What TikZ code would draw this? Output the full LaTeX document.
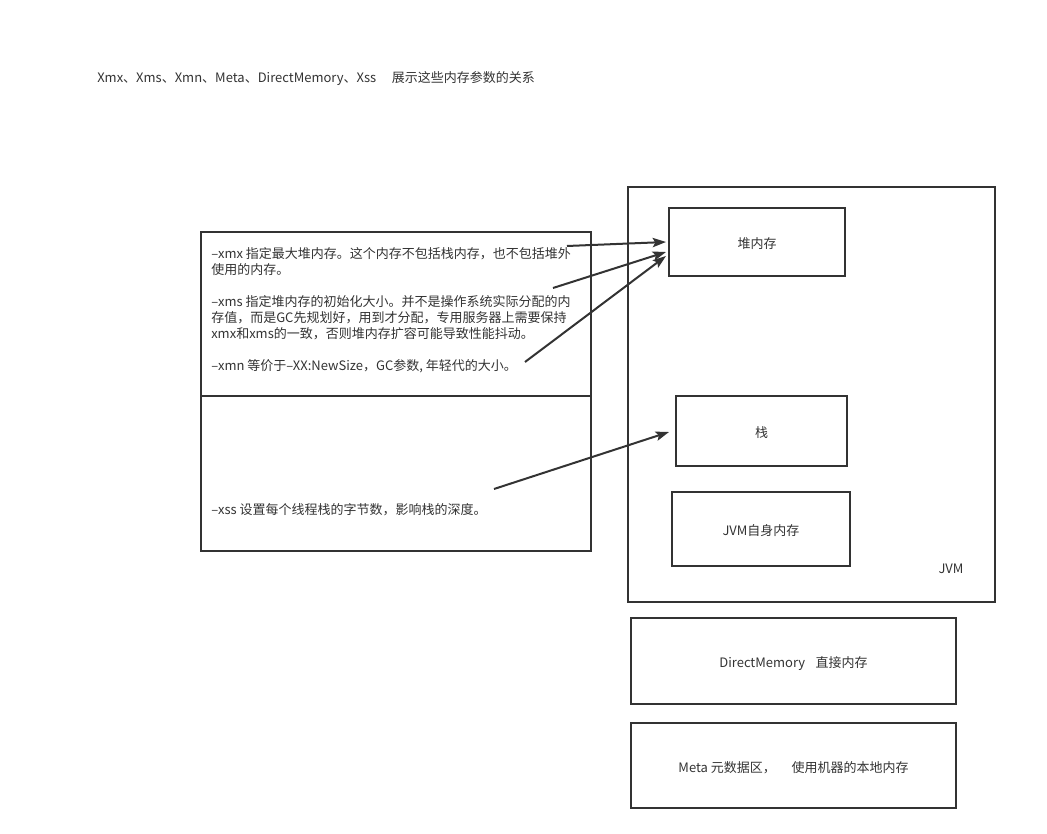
\documentclass[tikz,border=0pt]{standalone}
\usepackage{fontspec}
\setmainfont{Noto Sans CJK SC}
\usetikzlibrary{arrows.meta}
\definecolor{ln}{HTML}{333333}
\begin{document}
\begin{tikzpicture}[x=0.75pt,y=-0.75pt,
  box/.style={draw=ln,line width=1.5pt,rectangle,inner sep=0pt,font=\fontsize{9.75pt}{12pt}\selectfont,text=ln,text height=10.5pt,text depth=0.5pt},
  txt/.style={inner sep=0pt,font=\fontsize{9.75pt}{12pt}\selectfont,text=ln,align=left},
  arr/.style={draw=ln,line width=1.5pt,-{Stealth[length=10pt,width=7pt,inset=2pt]}}]
\useasboundingbox (0,0) rectangle (1047,834);
% title
\node[txt,anchor=west] (title) at (97,78.5) {Xmx、Xms、Xmn、Meta、DirectMemory、Xss\hspace{1.2em}展示这些内存参数的关系};
% left boxes
\node[box,minimum width=292.5pt,minimum height=123pt] (ltop) at (396,314) {};
\node[box,minimum width=292.5pt,minimum height=116.25pt] (lbot) at (396,473.5) {};
\node[txt,anchor=north west] (t1) at (211,247) {–xmx 指定最大堆内存。这个内存不包括栈内存，也不包括堆外\\使用的内存。\\[12pt]–xms 指定堆内存的初始化大小。并不是操作系统实际分配的内\\存值，而是GC先规划好，用到才分配，专用服务器上需要保持\\xmx和xms的一致，否则堆内存扩容可能导致性能抖动。\\[12pt]–xmn 等价于–XX:NewSize，GC参数, 年轻代的大小。};
\node[txt,anchor=west] (t2) at (211,509.5) {–xss 设置每个线程栈的字节数，影响栈的深度。};
% JVM
\node[box,minimum width=275.25pt,minimum height=311.25pt] (jvm) at (811.5,394.5) {};
\node[txt] (jvml) at (951,569) {JVM};
\node[box,minimum width=132pt,minimum height=51pt] (heap) at (757,242) {堆内存};
\node[box,minimum width=128.25pt,minimum height=52.5pt] (stack) at (761.5,431) {栈};
\node[box,minimum width=133.5pt,minimum height=55.5pt] (self) at (761,529) {JVM自身内存};
\node[box,minimum width=243.75pt,minimum height=64.5pt] (direct) at (793.5,661) {DirectMemory\hspace{0.8em}直接内存};
\node[box,minimum width=243.75pt,minimum height=63.75pt] (meta) at (793.5,765.5) {Meta 元数据区，\hspace{1.2em}使用机器的本地内存};
% arrow start points
\coordinate (a1) at (567,246);
\coordinate (a2) at (553,288);
\coordinate (a3) at (525,362);
\coordinate (a4) at (494,489);
\draw[arr] (a1) -- ([xshift=-1.5pt]heap.west);
\draw[arr] (a2) -- ([xshift=-1.5pt,yshift=-7.5pt]heap.west);
\draw[arr] (a3) -- ([xshift=-1.5pt,yshift=-10.5pt]heap.west);
\draw[arr] (a4) -- ([xshift=-4.5pt,yshift=-0.75pt]stack.west);
\end{tikzpicture}
\end{document}
